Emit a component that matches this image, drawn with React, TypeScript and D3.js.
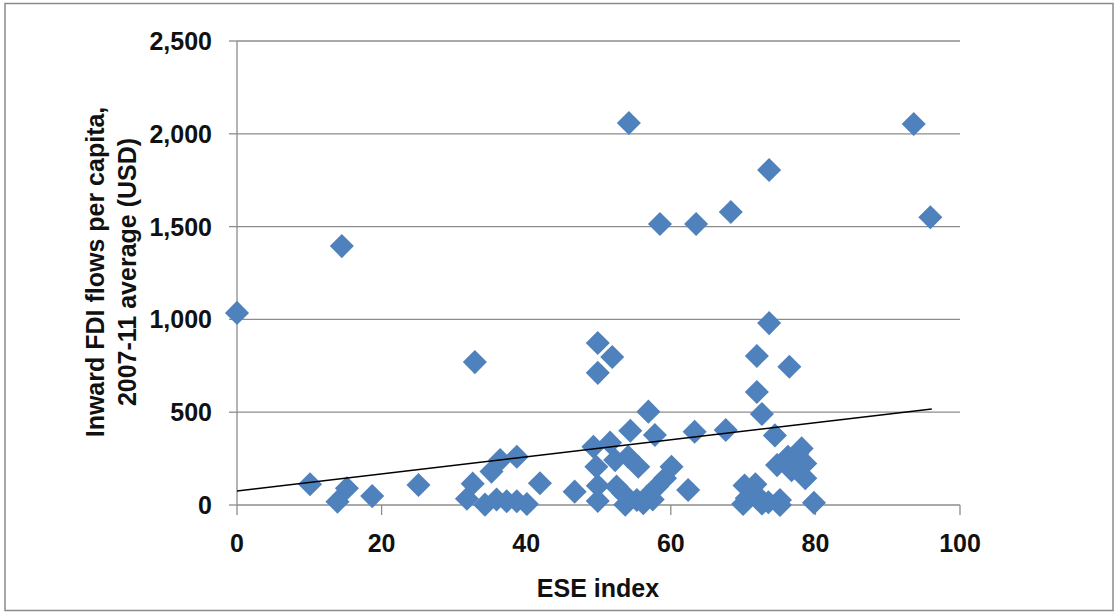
import { useEffect } from 'react';
import * as d3 from 'd3';

// ESE index (x) vs inward FDI flows per capita, USD (y)
const eseIndex = [
  0, 14.5, 32.9, 54.2, 49.9, 49.9, 51.9, 58.5, 63.5, 68.3, 73.6, 93.6, 95.9, 73.6, 71.9, 76.4, 71.9, 72.6, 56.9,
  10.1, 13.9, 15.2, 18.7, 25.1, 32.6, 31.8, 34.3, 35.2, 36.4, 38.7, 35.9, 37.3, 38.7, 40.1, 41.9, 46.7,
  49.3, 51.6, 54.4, 57.8, 63.3, 67.6, 49.7, 49.9, 49.9, 52.3, 54.1, 55.5, 52.5, 53.7, 53.4, 55.3, 56.7, 58.1, 59.2, 60.1, 62.4, 56.2, 57.5,
  74.4, 74.7, 76.2, 78.1, 78.6, 78.6, 76.7, 70.2, 71.7, 70.5, 72.3, 73.5, 75.1, 75.1, 79.8, 70.0, 77.5, 72.6,
];
const fdiPerCapita = [
  1035, 1395, 770, 2058, 712, 873, 797, 1514, 1514, 1579, 1805, 2053, 1550, 980, 803, 745, 609, 490, 503,
  112, 18, 90, 48, 108, 115, 34, 2, 180, 242, 260, 30, 20, 20, 5, 117, 72,
  314, 336, 400, 377, 395, 404, 206, 104, 22, 242, 260, 206, 99, 2, 63, 27, 45, 99, 144, 206, 81, 10, 30,
  375, 215, 260, 305, 224, 144, 188, 105, 112, 36, 36, 15, 27, 0, 12, 5, 278, 8,
];

const yTicks = [0, 500, 1000, 1500, 2000, 2500];
const xTicks = [0, 20, 40, 60, 80, 100];

// linear trend line
const trendIntercept = 75;
const trendSlope = 4.6;
const trendRange = [0, 96.1];

const FONT = '"Liberation Sans", Arial, sans-serif';

export default function App() {
  useEffect(() => {
    document.body.style.margin = '0';
  }, []);

  const width = 1116;
  const height = 613;

  const x = d3.scaleLinear().domain([0, 100]).range([237, 960]);
  const y = d3.scaleLinear().domain([0, 2500]).range([505, 41]);
  const fmt = d3.format(',');

  const points = eseIndex.map((v, i) => ({ x: v, y: fdiPerCapita[i] }));

  const diamond = d3.symbol().type(d3.symbolSquare).size(290)();

  const trend = d3.line<number>()
    .x(d => x(d))
    .y(d => y(trendIntercept + trendSlope * d))(trendRange);

  return (
    <svg width={width} height={height} style={{ display: 'block', background: '#fff' }}>
      <rect x={5} y={3.5} width={1108} height={607} fill="#fff" stroke="#8a8a8a" strokeWidth={1.5} />

      {/* gridlines */}
      {yTicks.filter(t => t > 0).map(t => (
        <line key={'g' + t} x1={x(0)} x2={x(100)} y1={y(t)} y2={y(t)} stroke="#8c8c8c" strokeWidth={1.3} />
      ))}

      {/* axes */}
      <line x1={x(0)} x2={x(0)} y1={y(2500)} y2={y(0)} stroke="#8c8c8c" strokeWidth={1.3} />
      <line x1={x(0)} x2={x(100)} y1={y(0)} y2={y(0)} stroke="#8c8c8c" strokeWidth={1.3} />

      {yTicks.map(t => (
        <g key={'y' + t}>
          <line x1={x(0) - 8} x2={x(0)} y1={y(t)} y2={y(t)} stroke="#8c8c8c" strokeWidth={1.3} />
          <text x={212} y={y(t)} dy="0.36em" textAnchor="end" fontFamily={FONT} fontWeight="bold" fontSize={25} fill="#111">
            {fmt(t)}
          </text>
        </g>
      ))}
      {xTicks.map(t => (
        <g key={'x' + t}>
          <line x1={x(t)} x2={x(t)} y1={y(0)} y2={y(0) + 10} stroke="#8c8c8c" strokeWidth={1.3} />
          <text x={x(t)} y={543} dy="0.36em" textAnchor="middle" fontFamily={FONT} fontWeight="bold" fontSize={25} fill="#111">
            {t}
          </text>
        </g>
      ))}

      {/* axis titles */}
      <text x={598} y={588} dy="0.36em" textAnchor="middle" fontFamily={FONT} fontWeight="bold" fontSize={25} fill="#111">
        ESE index
      </text>
      <g transform="translate(95,272) rotate(-90)">
        <text x={0} y={0} dy="0.36em" textAnchor="middle" fontFamily={FONT} fontWeight="bold" fontSize={25} fill="#111">
          Inward FDI flows per capita,
        </text>
        <text x={0} y={32} dy="0.36em" textAnchor="middle" fontFamily={FONT} fontWeight="bold" fontSize={25} fill="#111">
          2007-11 average (USD)
        </text>
      </g>

      {/* markers */}
      {points.map((p, i) => (
        <path
          key={i}
          d={diamond || ''}
          transform={`translate(${x(p.x)},${y(p.y)}) rotate(45)`}
          fill="#4f81bd"
        />
      ))}

      {/* trend line */}
      <path d={trend || ''} fill="none" stroke="#000" strokeWidth={1.5} />
    </svg>
  );
}
